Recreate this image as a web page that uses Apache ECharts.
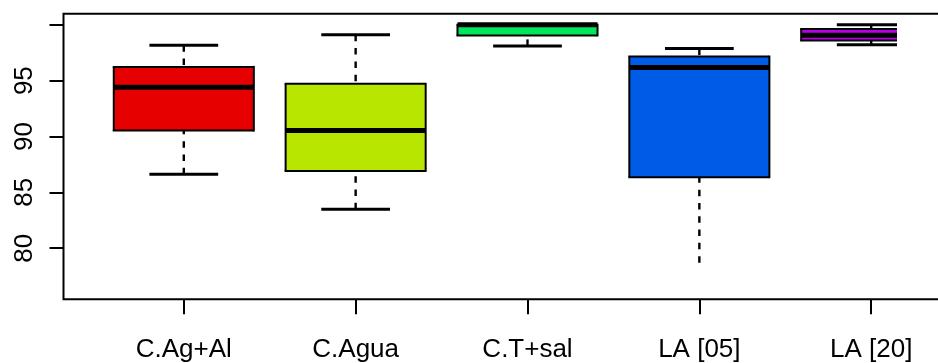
<!DOCTYPE html>
<html>
<head>
<meta charset="utf-8">
<script src="https://cdn.jsdelivr.net/npm/echarts@6/dist/echarts.min.js"></script>
<style>
html,body{margin:0;padding:0;background:#fff;}
#chart{width:938px;height:363px;}
</style>
</head>
<body>
<div id="chart"></div>
<script>
// ---- data ----
const categories = ['C.Ag+Al', 'C.Agua', 'C.T+sal', 'LA [05]', 'LA [20]'];
const lowerWhisker = [86.62, 83.49, 98.11, 78.71, 98.20];
const q1Values     = [90.53, 86.92, 99.05, 86.36, 98.59];
const medians      = [94.41, 90.53, 100.0, 96.17, 99.07];
const q3Values     = [96.23, 94.71, 100.0, 97.15, 99.63];
const upperWhisker = [98.17, 99.10, 100.0, 97.87, 100.0];
const lowerCapShown = [1, 1, 1, 0, 1];
const boxColors = ['#E60000', '#B8E600', '#00E65C', '#005CE6', '#B800E6'];
const yTickValues = [80, 85, 90, 95, 100];
const yLabelValues = [80, 85, 90, 95];

const seriesData = categories.map((c, i) => [
  i + 1, lowerWhisker[i], q1Values[i], medians[i], q3Values[i], upperWhisker[i], lowerCapShown[i], i
]);

const CLIP_X = 897;
const FONT = "'Liberation Sans', Arial, Helvetica, sans-serif";

function renderItem(params, api) {
  const xv = api.value(0);
  const lo = api.value(1), q1 = api.value(2), med = api.value(3),
        q3 = api.value(4), hi = api.value(5), loCap = api.value(6), idx = api.value(7);
  const halfBox = api.size([0.815, 0])[0] / 2;
  const halfCap = api.size([0.4, 0])[0] / 2;
  const pMed = api.coord([xv, med]);
  const cx = pMed[0];
  const yQ1 = api.coord([xv, q1])[1];
  const yQ3 = api.coord([xv, q3])[1];
  const yLo = api.coord([xv, lo])[1];
  const yHi = api.coord([xv, hi])[1];
  const bl = cx - halfBox;
  const brRaw = cx + halfBox;
  const br = Math.min(brRaw, CLIP_X);
  const clipped = brRaw > CLIP_X;
  const black = '#000';
  const children = [];
  const line = (x1, y1, x2, y2, w, dash) => ({
    type: 'line',
    shape: { x1, y1, x2, y2 },
    style: { stroke: black, lineWidth: w, lineDash: dash || null, lineCap: 'butt' },
    silent: true
  });
  // whiskers (dashed), drawn from whisker end toward the box
  if (Math.abs(yLo - yQ1) > 0.5) children.push(line(cx, yLo, cx, yQ1, 2.4, [6.5, 6.8]));
  if (Math.abs(yHi - yQ3) > 0.5) children.push(line(cx, yHi, cx, yQ3, 2.4, [6.5, 6.8]));
  // caps
  const capR = Math.min(cx + halfCap, CLIP_X);
  children.push(line(cx - halfCap, yHi, capR, yHi, 3));
  if (loCap) children.push(line(cx - halfCap, yLo, capR, yLo, 3));
  // box fill
  children.push({
    type: 'rect',
    shape: { x: bl, y: yQ3, width: br - bl, height: yQ1 - yQ3 },
    style: { fill: boxColors[idx], stroke: null },
    silent: true
  });
  // box border
  children.push(line(bl - 1, yQ3, br, yQ3, 2));
  children.push(line(bl - 1, yQ1, br, yQ1, 2));
  children.push(line(bl, yQ3, bl, yQ1, 2));
  if (!clipped) children.push(line(br, yQ3 - 1, br, yQ1 + 1, 2));
  // median
  children.push(line(bl, pMed[1], br, pMed[1], 5));
  return { type: 'group', children };
}

const chart = echarts.init(document.getElementById('chart'), null, { renderer: 'canvas' });
chart.setOption({
  animation: false,
  backgroundColor: '#fff',
  grid: {
    left: 63.5, top: 13.7, width: 928, bottom: 63.7,
    show: true, borderColor: '#000', borderWidth: 2, backgroundColor: 'transparent',
    containLabel: false, outerBoundsMode: 'none'
  },
  xAxis: {
    type: 'value', min: 0.3, max: 5.7,
    axisLine: { show: false },
    splitLine: { show: false },
    axisTick: { show: true, customValues: [1, 2, 3, 4, 5], length: 15, lineStyle: { color: '#000', width: 2 } },
    axisLabel: {
      customValues: [1, 2, 3, 4, 5],
      formatter: v => categories[Math.round(v) - 1] || '',
      fontSize: 26, color: '#000', fontFamily: FONT, margin: 38
    }
  },
  yAxis: {
    type: 'value', min: 75.43, max: 100.99,
    axisLine: { show: false },
    splitLine: { show: false },
    axisTick: { show: true, customValues: yTickValues, length: 14, lineStyle: { color: '#000', width: 2 } },
    axisLabel: {
      customValues: yLabelValues,
      rotate: 90,
      fontSize: 26, color: '#000', fontFamily: FONT, margin: 26
    }
  },
  series: [{
    type: 'custom',
    renderItem,
    clip: false,
    encode: { x: 0, y: [1, 2, 3, 4, 5] },
    data: seriesData
  }]
});
</script>
</body>
</html>
